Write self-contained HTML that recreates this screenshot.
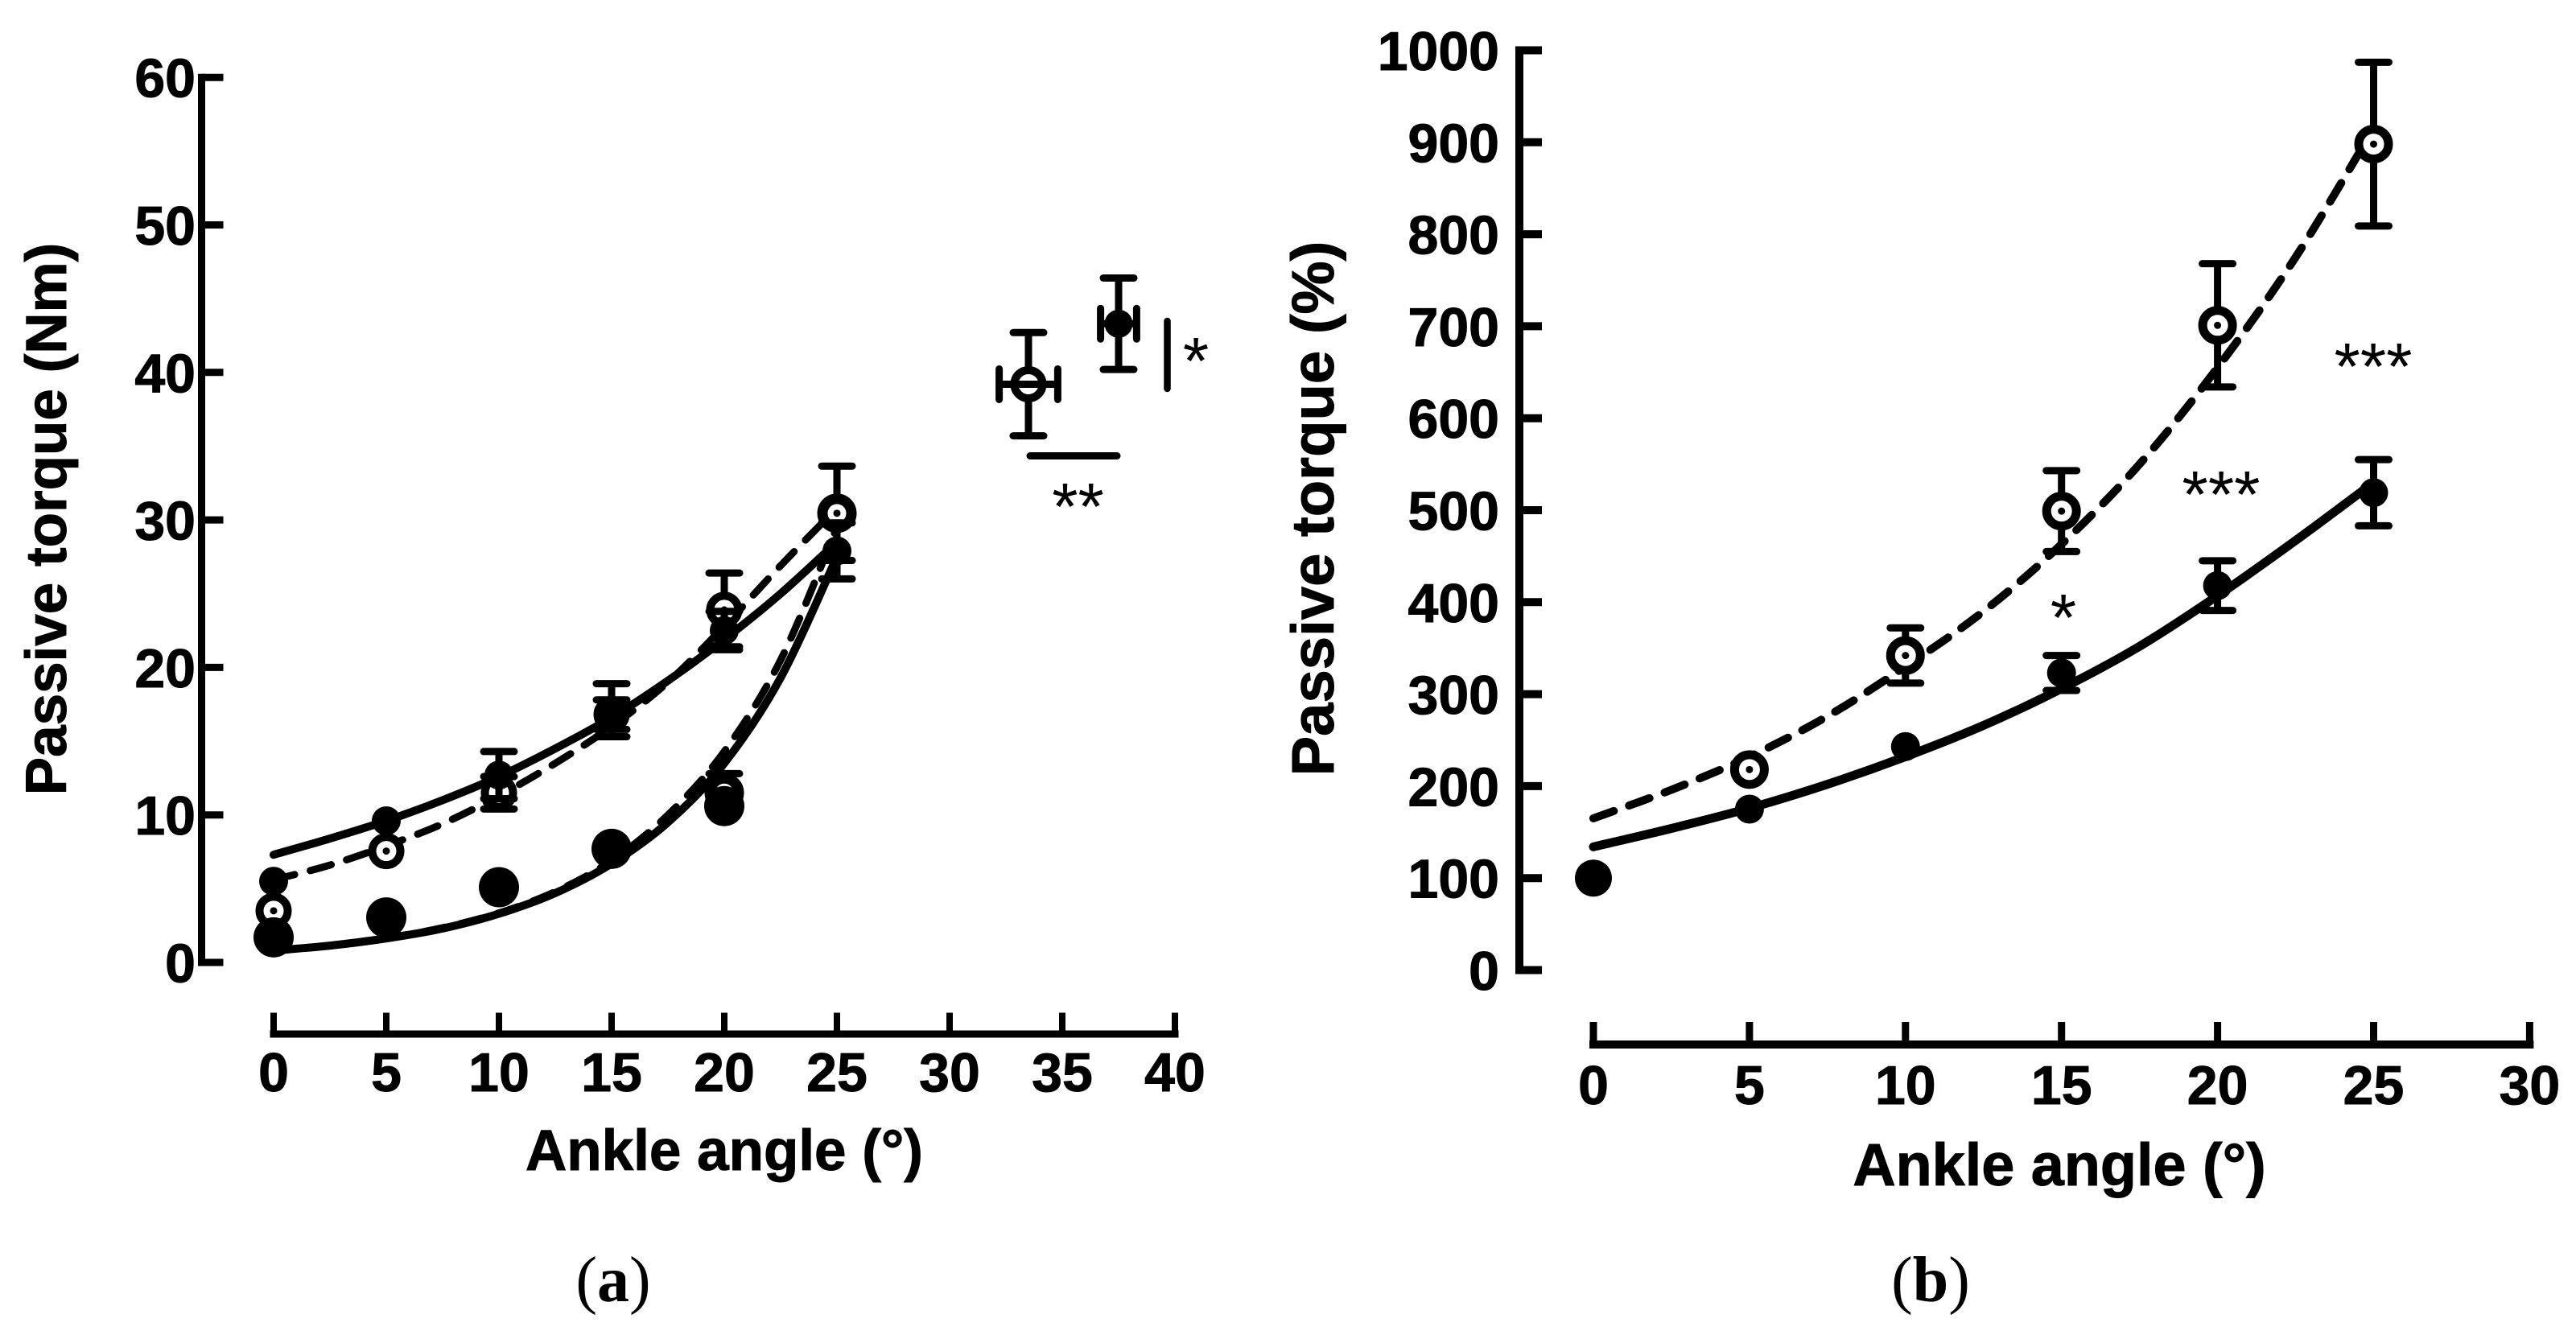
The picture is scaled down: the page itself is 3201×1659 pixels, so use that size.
<!DOCTYPE html>
<html lang="en">
<head>
<meta charset="utf-8">
<title>Passive torque vs ankle angle</title>
<style>
html,body{margin:0;padding:0;background:#fff;width:3201px;height:1659px;overflow:hidden}
svg{display:block}
text{font-family:"Liberation Sans",Arial,sans-serif;fill:#000}
</style>
</head>
<body>
<svg id="figure" xmlns="http://www.w3.org/2000/svg" width="3201" height="1659" viewBox="0 0 3201 1659">
<rect width="3201" height="1659" fill="#fff"/>
<text x="762" y="1617" text-anchor="middle" style="font-family:'Liberation Serif',serif;font-size:80px">(<tspan font-weight="700">a</tspan>)</text>
<text x="2399" y="1617" text-anchor="middle" style="font-family:'Liberation Serif',serif;font-size:80px">(<tspan font-weight="700">b</tspan>)</text>
</svg>
<script>
// ---------- Panel A data ----------
const aYTicks = [0, 10, 20, 30, 40, 50, 60];
const aXTicks = [0, 5, 10, 15, 20, 25, 30, 35, 40];
const aCurveAngles = [0, 2.5, 5, 7.5, 10, 12.5, 15, 17.5, 20, 22.5, 25];
const aUpperSolidCurve = [7.3, 8.4, 9.6, 11.0, 12.6, 14.5, 16.6, 19.1, 21.9, 25.0, 28.5];
const aUpperDashedCurve = [5.6, 6.6, 7.9, 9.4, 11.3, 13.5, 16.0, 19.0, 22.8, 26.9, 30.8];
const aLowerSolidCurve = [0.8, 1.14, 1.63, 2.3, 3.3, 4.7, 6.7, 9.5, 13.5, 19.3, 27.5];
const aLowerDashedCurve = [0.8, 1.15, 1.65, 2.35, 3.35, 4.8, 6.9, 10.0, 14.3, 20.5, 29.5];
const aPointAngles = [0, 5, 10, 15, 20, 25];
const aUpperFilledValues = [5.5, 9.6, 12.7, 17.1, 22.5, 27.9];
const aUpperFilledErrors = [0, 0, 1.6, 1.8, 1.3, 1.9];
const aUpperOpenValues = [3.5, 7.55, 11.5, 16.8, 23.9, 30.45];
const aUpperOpenErrors = [0, 0, 1.1, 1.0, 2.5, 3.2];
const aLowerOpenValues = [1.7, 3.0, 5.1, 7.7, 11.5, 30.45];
const aLowerOpenErrors = [0, 0, 0, 0, 1.3, 0];
const aLowerFilledAngles = [0, 5, 10, 15, 20];
const aLowerFilledValues = [1.7, 3.05, 5.1, 7.7, 10.6];
const aSummaryOpen = [33.5, 39.2, 3.5, 1.3];
const aSummaryFilled = [37.5, 43.3, 3.1, 0.8];

// ---------- Panel B data ----------
const bYTicks = [0, 100, 200, 300, 400, 500, 600, 700, 800, 900, 1000];
const bXTicks = [0, 5, 10, 15, 20, 25, 30];
const bCurveAngles = [0, 2.5, 5, 7.5, 10, 12.5, 15, 17.5, 20, 22.5, 25];
const bSolidCurve = [134, 154, 176, 202, 232, 266, 306, 352, 407, 467, 530];
const bDashedCurve = [165, 196, 232, 276, 330, 390, 463, 550, 655, 775, 915];
const bFilledAngles = [0, 5, 10, 15, 20, 25];
const bFilledValues = [100, 175, 243, 323, 418, 519];
const bFilledErrors = [0, 0, 0, 19, 27, 36];
const bOpenAngles = [5, 10, 15, 20, 25];
const bOpenValues = [218, 342, 499, 701, 898];
const bOpenErrors = [0, 30, 44, 67, 89];

// ---------- Axis functions ----------
function xA(a) { return 340 + 28 * a; }
function yA(v) { return 1196 - 18.33 * v; }
function xB(a) { return 1980 + 38.78 * a; }
function yB(v) { return 1205.5 - 1.143 * v; }

const NS = 'http://www.w3.org/2000/svg';
const root = document.getElementById('figure');

function make(tag, attrs, parent) {
  const node = document.createElementNS(NS, tag);
  for (const k in attrs) node.setAttribute(k, attrs[k]);
  (parent || root).appendChild(node);
  return node;
}

function splinePath(xs, ys) {
  let d = 'M' + xs[0] + ' ' + ys[0];
  for (let i = 0; i < xs.length - 1; i++) {
    const p0 = Math.max(i - 1, 0), p3 = Math.min(i + 2, xs.length - 1);
    const c1x = xs[i] + (xs[i + 1] - xs[p0]) / 6, c1y = ys[i] + (ys[i + 1] - ys[p0]) / 6;
    const c2x = xs[i + 1] - (xs[p3] - xs[i]) / 6, c2y = ys[i + 1] - (ys[p3] - ys[i]) / 6;
    d += 'C' + c1x + ' ' + c1y + ' ' + c2x + ' ' + c2y + ' ' + xs[i + 1] + ' ' + ys[i + 1];
  }
  return d;
}

function drawCurve(angles, values, fx, fy, dashed, name, width) {
  const attrs = {
    d: splinePath(angles.map(fx), values.map(fy)),
    fill: 'none', stroke: '#000', 'stroke-width': width, 'stroke-linecap': 'round'
  };
  if (dashed) attrs['stroke-dasharray'] = '27 20';
  const el = make('path', attrs);
  
  
}

function drawVerticalError(px, top, bottom, name) {
  const stem = make('line', { x1: px, x2: px, y1: top, y2: bottom, stroke: '#000', 'stroke-width': 9 });
  
  
  [top, bottom].forEach(function (cy) {
    const cap = make('line', { x1: px - 19, x2: px + 19, y1: cy, y2: cy, stroke: '#000', 'stroke-width': 9, 'stroke-linecap': 'round' });
    
    
  });
}

function drawHorizontalError(py, left, right, name) {
  const stem = make('line', { x1: left, x2: right, y1: py, y2: py, stroke: '#000', 'stroke-width': 9 });
  
  
  [left, right].forEach(function (cx) {
    const cap = make('line', { x1: cx, x2: cx, y1: py - 19, y2: py + 19, stroke: '#000', 'stroke-width': 9, 'stroke-linecap': 'round' });
    
    
  });
}

function drawFilled(px, py, r, name) {
  const el = make('circle', { cx: px, cy: py, r: r, fill: '#000' });
  
  
}

function drawOpen(px, py, r, sw, dot, name) {
  const ring = make('circle', { cx: px, cy: py, r: r, fill: '#fff', stroke: '#000', 'stroke-width': sw });
  
  
  if (dot) {
    const centre = make('circle', { cx: px, cy: py, r: 4.5, fill: '#000' });
    
    
  }
}

function drawText(x, y, str, size, anchor, name, rotate, weight) {
  const attrs = { x: x, y: y, 'text-anchor': anchor, 'font-size': size, 'font-weight': weight || 700 };
  if (!weight) { attrs.stroke = '#000'; attrs['stroke-width'] = 1; }
  if (rotate) attrs.transform = 'rotate(-90 ' + x + ' ' + y + ')';
  const el = make('text', attrs);
  el.textContent = str;
  
  
}

function drawStars(cx, cy, str, name) {
  drawText(cx, cy + 40, str, 83, 'middle', name, false, 400);
}

function drawAxes(o) {
  const yLine = make('line', { x1: o.axisX, x2: o.axisX, y1: o.fy(o.yTicks[o.yTicks.length - 1]) - o.w / 2, y2: o.fy(o.yTicks[0]) + o.w / 2, stroke: '#000', 'stroke-width': o.w });
  
  
  o.yTicks.forEach(function (t) {
    const tick = make('line', { x1: o.axisX, x2: o.tickEnd, y1: o.fy(t), y2: o.fy(t), stroke: '#000', 'stroke-width': o.w });
    
    
    drawText(o.labelRight, o.fy(t) + 24.5, String(t), 68, 'end', o.id + '-y-tick-label');
  });
  const xFirst = o.fx(o.xTicks[0]), xLast = o.fx(o.xTicks[o.xTicks.length - 1]);
  const xLine = make('line', { x1: xFirst - o.w / 2, x2: xLast + o.w / 2, y1: o.axisY, y2: o.axisY, stroke: '#000', 'stroke-width': o.w });
  
  
  o.xTicks.forEach(function (t) {
    const tick = make('line', { x1: o.fx(t), x2: o.fx(t), y1: o.axisY, y2: o.xTickTop, stroke: '#000', 'stroke-width': o.w - 1 });
    
    
    drawText(o.fx(t), o.xLabelBase, String(t), 68, 'middle', o.id + '-x-tick-label');
  });
}

// ---------- Panel A ----------
drawAxes({ id: 'panel-a', fx: xA, fy: yA, yTicks: aYTicks, xTicks: aXTicks, axisX: 250.5, tickEnd: 277.5, labelRight: 243, axisY: 1285, xTickTop: 1258.5, xLabelBase: 1356, w: 9 });
drawText(82, 645, 'Passive torque (Nm)', 71, 'middle', 'panel-a-y-axis-title', true);
drawText(900, 1454, 'Ankle angle (°)', 71, 'middle', 'panel-a-x-axis-title');

drawCurve(aCurveAngles, aLowerDashedCurve, xA, yA, true, 'panel-a-lower-dashed-fit', 9);
drawCurve(aCurveAngles, aLowerSolidCurve, xA, yA, false, 'panel-a-lower-solid-fit', 10);
drawCurve(aCurveAngles, aUpperDashedCurve, xA, yA, true, 'panel-a-upper-dashed-fit', 9);
drawCurve(aCurveAngles, aUpperSolidCurve, xA, yA, false, 'panel-a-upper-solid-fit', 10);

aPointAngles.forEach(function (a, i) {
  if (aUpperOpenErrors[i] > 0) {
    drawVerticalError(xA(a), yA(aUpperOpenValues[i] + aUpperOpenErrors[i]), yA(aUpperOpenValues[i] - aUpperOpenErrors[i]), 'panel-a-upper-open-error');
  }
  drawOpen(xA(a), yA(aUpperOpenValues[i]), 17.5, 10, true, 'panel-a-upper-open-point');
});
aPointAngles.forEach(function (a, i) {
  if (aLowerOpenErrors[i] > 0) {
    drawVerticalError(xA(a), yA(aLowerOpenValues[i] + aLowerOpenErrors[i]), yA(aLowerOpenValues[i] - aLowerOpenErrors[i]), 'panel-a-lower-open-error');
  }
  drawOpen(xA(a), yA(aLowerOpenValues[i]), 18, 13, true, 'panel-a-lower-open-point');
});
aLowerFilledAngles.forEach(function (a, i) {
  drawFilled(xA(a), yA(aLowerFilledValues[i]), 25, 'panel-a-lower-filled-point');
});
aPointAngles.forEach(function (a, i) {
  if (aUpperFilledErrors[i] > 0) {
    drawVerticalError(xA(a), yA(aUpperFilledValues[i] + aUpperFilledErrors[i]), yA(aUpperFilledValues[i] - aUpperFilledErrors[i]), 'panel-a-upper-filled-error');
  }
  drawFilled(xA(a), yA(aUpperFilledValues[i]), 18, 'panel-a-upper-filled-point');
});

// summary points (angle, torque, torque error, angle error)
drawVerticalError(xA(aSummaryOpen[0]), yA(aSummaryOpen[1] + aSummaryOpen[2]), yA(aSummaryOpen[1] - aSummaryOpen[2]), 'panel-a-summary-open-error');
drawOpen(xA(aSummaryOpen[0]), yA(aSummaryOpen[1]), 17.5, 10, false, 'panel-a-summary-open-point');
drawHorizontalError(yA(aSummaryOpen[1]), xA(aSummaryOpen[0] - aSummaryOpen[3]), xA(aSummaryOpen[0] + aSummaryOpen[3]), 'panel-a-summary-open-angle-error');
drawVerticalError(xA(aSummaryFilled[0]), yA(aSummaryFilled[1] + aSummaryFilled[2]), yA(aSummaryFilled[1] - aSummaryFilled[2]), 'panel-a-summary-filled-error');
drawHorizontalError(yA(aSummaryFilled[1]), xA(aSummaryFilled[0] - aSummaryFilled[3]), xA(aSummaryFilled[0] + aSummaryFilled[3]), 'panel-a-summary-filled-angle-error');
drawFilled(xA(aSummaryFilled[0]), yA(aSummaryFilled[1]), 17.5, 'panel-a-summary-filled-point');

const bracketV = make('line', { x1: 1450.5, x2: 1450.5, y1: 399, y2: 483, stroke: '#000', 'stroke-width': 8.5, 'stroke-linecap': 'round' });


const bracketH = make('line', { x1: 1280, x2: 1388, y1: 566.5, y2: 566.5, stroke: '#000', 'stroke-width': 9, 'stroke-linecap': 'round' });


drawStars(1486, 437, '*', 'panel-a-torque-significance-star');
drawStars(1339.5, 618, '**', 'panel-a-angle-significance-stars');

// ---------- Panel B ----------
drawAxes({ id: 'panel-b', fx: xB, fy: yB, yTicks: bYTicks, xTicks: bXTicks, axisX: 1888, tickEnd: 1916, labelRight: 1863, axisY: 1298, xTickTop: 1270, xLabelBase: 1372, w: 10 });
drawText(1657, 632, 'Passive torque (%)', 74.3, 'middle', 'panel-b-y-axis-title', true);
drawText(2559, 1473, 'Ankle angle (°)', 73.8, 'middle', 'panel-b-x-axis-title');

drawCurve(bCurveAngles, bDashedCurve, xB, yB, true, 'panel-b-dashed-fit', 10);
drawCurve(bCurveAngles, bSolidCurve, xB, yB, false, 'panel-b-solid-fit', 11);

bOpenAngles.forEach(function (a, i) {
  if (bOpenErrors[i] > 0) {
    drawVerticalError(xB(a), yB(bOpenValues[i] + bOpenErrors[i]), yB(bOpenValues[i] - bOpenErrors[i]), 'panel-b-open-error');
  }
  drawOpen(xB(a), yB(bOpenValues[i]), 18.5, 11, true, 'panel-b-open-point');
});
bFilledAngles.forEach(function (a, i) {
  if (bFilledErrors[i] > 0) {
    drawVerticalError(xB(a), yB(bFilledValues[i] + bFilledErrors[i]), yB(bFilledValues[i] - bFilledErrors[i]), 'panel-b-filled-error');
  }
  drawFilled(xB(a), yB(bFilledValues[i]), a === 0 ? 23 : 18, 'panel-b-filled-point');
});

drawStars(2949, 444, '***', 'panel-b-significance-stars-25');
drawStars(2760, 603, '***', 'panel-b-significance-stars-20');
drawStars(2564, 756, '*', 'panel-b-significance-star-15');
</script>
</body>
</html>
